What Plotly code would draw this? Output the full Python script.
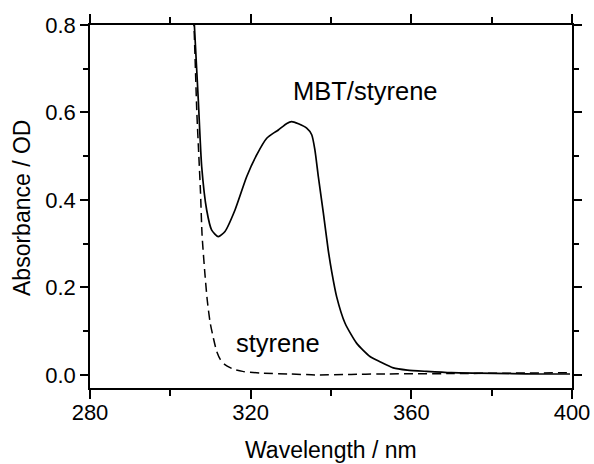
import plotly.graph_objects as go

# MBT/styrene (solid)
mbt_nm = [305.5, 306.0, 306.96, 307.81, 309.05, 310.3, 311.94, 313.61, 316.1, 319.0,
          321.5, 324.0, 326.2, 326.9, 329.0, 330.2, 331.9, 333.95, 335.2, 336.0,
          336.85, 338.1, 339.3, 340.2, 341.4, 343.5, 346.4, 349.7, 352.2, 355.5,
          359.0, 363.8, 370.0, 376.3, 385.0, 392.0, 399.5]
mbt_od = [0.90, 0.797, 0.629, 0.476, 0.377, 0.331, 0.316, 0.328, 0.377, 0.453,
          0.503, 0.541, 0.556, 0.560, 0.575, 0.579, 0.574, 0.564, 0.549, 0.514,
          0.453, 0.370, 0.286, 0.235, 0.179, 0.118, 0.072, 0.042, 0.030, 0.016,
          0.011, 0.008, 0.005, 0.004, 0.003, 0.002, 0.002]

# styrene (dashed)
sty_nm = [305.6, 305.9, 306.6, 307.1, 307.5, 307.9, 308.6, 309.2, 309.9, 310.7,
          311.5, 312.4, 313.5, 315.7, 318.0, 323.0, 330.0, 336.0, 345.0, 352.0,
          370.0, 385.0, 399.5]
sty_od = [0.85, 0.796, 0.60, 0.50, 0.42, 0.32, 0.232, 0.17, 0.12, 0.085,
          0.055, 0.036, 0.024, 0.013, 0.008, 0.004, 0.002, 0.0, 0.001, 0.002,
          0.003, 0.004, 0.005]

x_range = [280, 400]
y_range = [-0.03, 0.8]
x_ticks = [280, 320, 360, 400]
y_ticks = [0.0, 0.2, 0.4, 0.6, 0.8]
y_tick_text = ["0.0", "0.2", "0.4", "0.6", "0.8"]

FONT = "Liberation Sans, Arial, sans-serif"

fig = go.Figure()
fig.add_trace(go.Scatter(x=sty_nm, y=sty_od, mode="lines",
                         line=dict(color="black", width=1.5, dash="9px,5px",
                                   shape="spline", smoothing=0.6),
                         showlegend=False))
fig.add_trace(go.Scatter(x=mbt_nm, y=mbt_od, mode="lines",
                         line=dict(color="black", width=1.7,
                                   shape="spline", smoothing=0.6),
                         showlegend=False))

fig.add_annotation(x=330.0, y=0.650, text="MBT/styrene", showarrow=False,
                   xanchor="left", yanchor="middle",
                   font=dict(family=FONT, size=25.5, color="black"))
fig.add_annotation(x=315.85, y=0.073, text="styrene", showarrow=False,
                   xanchor="left", yanchor="middle",
                   font=dict(family=FONT, size=25.5, color="black"))
fig.add_annotation(xref="paper", yref="paper", x=0.5, y=-0.171,
                   text="Wavelength / nm", showarrow=False,
                   xanchor="center", yanchor="middle",
                   font=dict(family=FONT, size=23, color="black"))
fig.add_annotation(xref="paper", yref="paper", x=-0.141, y=0.496,
                   text="Absorbance / OD", showarrow=False, textangle=-90,
                   xanchor="center", yanchor="middle",
                   font=dict(family=FONT, size=23, color="black"))

fig.update_layout(
    width=594, height=464,
    margin=dict(l=90, r=22, t=25, b=76, autoexpand=False),
    paper_bgcolor="white", plot_bgcolor="white",
    font=dict(family=FONT, size=22, color="black"),
    xaxis=dict(range=x_range, tickvals=x_ticks, ticks="outside", ticklen=9,
               tickwidth=1.5, tickcolor="black", ticklabelstandoff=-5,
               minor=dict(tickvals=[300, 340, 380], ticks="outside", ticklen=6,
                          tickwidth=1.5, tickcolor="black"),
               showline=True, mirror="ticks", linewidth=1.5, linecolor="black",
               showgrid=False, zeroline=False, automargin=False,
               tickfont=dict(size=22)),
    yaxis=dict(range=y_range, tickvals=y_ticks, ticktext=y_tick_text,
               ticks="outside", ticklen=8,
               tickwidth=1.5, tickcolor="black",
               minor=dict(tickvals=[0.1, 0.3, 0.5, 0.7], ticks="outside", ticklen=5,
                          tickwidth=1.5, tickcolor="black"),
               showline=True, mirror="ticks", linewidth=1.5, linecolor="black",
               showgrid=False, zeroline=False, automargin=False,
               tickfont=dict(size=22)),
)

fig.write_html("out.html")
